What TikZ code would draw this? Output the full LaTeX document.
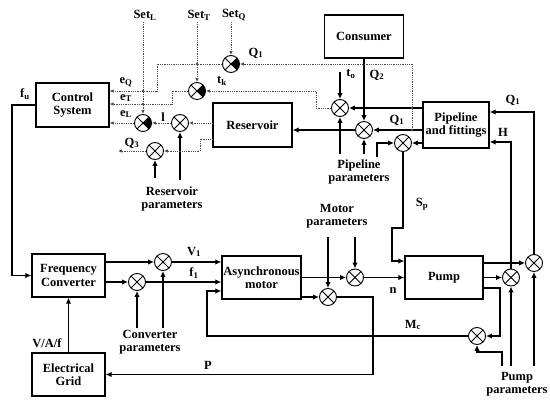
\documentclass[tikz,border=0pt]{standalone}
\usepackage{fontspec}
\setmainfont{Liberation Serif}
\usetikzlibrary{arrows.meta}
\begin{document}
\begin{tikzpicture}[x=1pt,y=-1pt,
  every node/.style={font=\bfseries\fontsize{12.5}{13.5}\selectfont},
  lbl/.style={inner sep=0pt,align=center},
  blk/.style={draw,line width=1.3pt,align=center,inner sep=0pt},
  sumj/.style={draw,circle,line width=0.9pt,minimum size=17pt,inner sep=0pt,fill=white,
    path picture={\draw[line width=0.8pt] (path picture bounding box.north west)--(path picture bounding box.south east)
      (path picture bounding box.north east)--(path picture bounding box.south west);}},
  cmpj/.style={draw,circle,line width=0.9pt,minimum size=17pt,inner sep=0pt,fill=white,
    path picture={\fill[black] (path picture bounding box.center) -- ++(45:14pt) -- ++(0,-19.8pt) -- cycle;
      \draw[line width=0.8pt] (path picture bounding box.north west)--(path picture bounding box.south east)
      (path picture bounding box.north east)--(path picture bounding box.south west);}},
  flow/.style={line width=1.7pt,-{Latex[length=6pt,width=5.5pt]}},
  sig/.style={densely dotted,line width=0.8pt,draw=black!70,-{Latex[length=4pt,width=3.5pt]}},
  sdot/.style={fill=black!70},
]
\useasboundingbox (0,0) rectangle (550,405);

% blocks
\node[blk,minimum width=73pt,minimum height=44pt] (ctrl) at (72.5,105) {Control\\System};
\node[blk,minimum width=79pt,minimum height=43pt] (cons) at (364,36.5) {Consumer};
\node[blk,minimum width=79pt,minimum height=44pt] (res) at (252.5,125) {Reservoir};
\node[blk,minimum width=66pt,minimum height=46pt] (pipe) at (456,125) {Pipeline\\and fittings};
\node[blk,minimum width=73pt,minimum height=43pt] (conv) at (68.5,275.5) {Frequency\\Converter};
\node[blk,minimum width=73pt,minimum height=43pt] (grid) at (68.5,374.5) {Electrical\\Grid};
\node[blk,minimum width=79pt,minimum height=43pt] (motor) at (261.5,277.5) {Asynchronous\\motor};
\node[blk,minimum width=78pt,minimum height=43pt] (pump) at (444,277.5) {Pump};

% junctions
\node[sumj] (jV) at (163,262) {};
\node[sumj] (jf) at (137,282) {};
\node[sumj] (jMu) at (355,277.5) {};
\node[sumj] (jMl) at (328,297) {};
\node[sumj] (jA) at (511,277.5) {};
\node[sumj] (jB) at (534,263) {};
\node[sumj] (jMc) at (477,336) {};
\node[sumj] (jSp) at (403,143) {};
\node[sumj] (jUp) at (340,108) {};
\node[sumj] (jLo) at (364,130) {};
\node[sumj] (jl) at (180,123) {};
\node[sumj] (jQ3) at (155,151) {};
\node[cmpj] (jeL) at (143,123) {};
\node[cmpj] (jtk) at (197,91) {};
\node[cmpj] (jQ1) at (231,64) {};

% helper coordinates
\coordinate (mcin) at (207,291);
\coordinate (pmc) at (500,288);
\coordinate (hH) at (511,142);
\coordinate (qQ) at (534,112);
\coordinate (spin) at (392,261);
\coordinate (r3) at (200,139);
\coordinate (eq) at (157,91);
\coordinate (et) at (172,104);

% solid connectors
\draw[flow] (ctrl.west) -- (12,105) |- (conv.west);
\draw[flow] (grid.north) -- (conv.south);
\draw[flow] (conv.east |- jV) -- (jV);
\draw[flow] (conv.east |- jf) -- (jf);
\draw[flow] (jV) -- (motor.west |- jV);
\draw[flow] (jf) -- (motor.west |- jf);
\draw[flow] (163,328) -- (jV);
\draw[flow] (137,328) -- (jf);
\draw[flow] (motor.east |- jMu) -- (jMu);
\draw[flow] (motor.east |- jMl) -- (jMl);
\draw[flow] (328,237) -- (jMl);
\draw[flow] (355,237) -- (jMu);
\draw[flow] (jMu) -- (pump.west |- jMu);
\draw[flow] (jMl) -- (373,297) -- (373,374.5) -- (grid.east);
\draw[flow] (jMc) -- (207,336) -- (mcin) -- (motor.west |- mcin);
\draw[flow] (pump.east |- jB) -- (jB);
\draw[flow] (pump.east |- jA) -- (jA);
\draw[flow] (pump.east |- pmc) -- (pmc) -- (500,336) -- (jMc);
\draw[flow] (502,366) -- (502,352) -- (477,352) -- (jMc);
\draw[flow] (511,366) -- (jA);
\draw[flow] (534,366) -- (jB);
\draw[flow] (jA) -- (hH) -- (pipe.east |- hH);
\draw[flow] (jB) -- (qQ) -- (pipe.east |- qQ);
\draw[flow] (pipe.west |- jSp) -- (jSp);
\draw[flow] (pipe.west |- jUp) -- (jUp);
\draw[flow] (pipe.west |- jLo) -- (jLo);
\draw[flow] (cons.south) -- (jLo);
\draw[flow] (340,72) -- (jUp);
\draw[flow] (340,154) -- (jUp);
\draw[flow] (364,154) -- (jLo);
\draw[flow] (377,157) -- (377,143) -- (jSp);
\draw[flow] (jLo) -- (res.east |- jLo);
\draw[flow] (jSp) -- (403,228) -- (392,228) -- (spin) -- (pump.west |- spin);
\draw[flow] (180,180) -- (jl);
\draw[flow] (155,178) -- (jQ3);
\fill (511,263) circle (1.6pt);
\fill (373,336) circle (1.6pt);

% dotted signals
\draw[sig] (res.west |- jl) -- (jl);
\draw[sig] (res.west |- r3) -- (r3) -- (200,151) -- (jQ3);
\draw[sig] (jQ3) -- (118,151);
\draw[sig] (jl) -- (jeL);
\draw[sig] (jeL) -- (ctrl.east |- jeL);
\draw[sig] (143,22) -- (jeL);
\draw[sig] (197,22) -- (jtk);
\draw[sig] (231,22) -- (jQ1);
\draw[sig] (jQ1) -- (157,64) -- (eq) -- (ctrl.east |- eq);
\draw[sig] (jtk) -- (172,91) -- (et) -- (ctrl.east |- et);
\draw[sig] (jUp) -- (316,108) -- (316,91) -- (jtk);
\draw[sig] (412,130) -- (412,64) -- (jQ1);
\fill[sdot] (143,91) circle (1.3pt);
\fill[sdot] (143,104) circle (1.3pt);
\fill[sdot] (197,64) circle (1.3pt);
\fill[sdot] (412,108) circle (1.3pt);
\fill[sdot] (412,130) circle (1.3pt);

% labels
\node[lbl] (tSL) at (145,15) {Set\textsubscript{L}};
\node[lbl] (tST) at (199,15) {Set\textsubscript{T}};
\node[lbl] (tSQ) at (234,15) {Set\textsubscript{Q}};
\node[lbl] (tQ1a) at (256,53) {Q\textsubscript{1}};
\node[lbl] (ttk) at (222,81) {t\textsubscript{k}};
\node[lbl] (teQ) at (126,82) {e\textsubscript{Q}};
\node[lbl] (teT) at (126,98) {e\textsubscript{T}};
\node[lbl] (teL) at (126,114) {e\textsubscript{L}};
\node[lbl] (tl) at (163,117) {l};
\node[lbl] (tQ3) at (132,143) {Q\textsubscript{3}};
\node[lbl] (tQ1b) at (397,120) {Q\textsubscript{1}};
\node[lbl] (tQ2) at (377,75) {Q\textsubscript{2}};
\node[lbl] (tto) at (351,74) {t\textsubscript{o}};
\node[lbl] (tQ1c) at (513,100) {Q\textsubscript{1}};
\node[lbl] (tH) at (503,132) {H};
\node[lbl] (tSp) at (422,204) {S\textsubscript{p}};
\node[lbl] (tV1) at (194,252) {V\textsubscript{1}};
\node[lbl] (tf1) at (194,273) {f\textsubscript{1}};
\node[lbl] (tn) at (393,291) {n};
\node[lbl] (tMc) at (413,325) {M\textsubscript{c}};
\node[lbl] (tP) at (208,365) {P};
\node[lbl] (tVAf) at (47,343) {V/A/f};
\node[lbl] (tfu) at (25,94) {f\textsubscript{u}};
\node[lbl] (tRp) at (172,199) {Reservoir\\parameters};
\node[lbl] (tPp) at (359,172) {Pipeline\\parameters};
\node[lbl] (tMp) at (337,216) {Motor\\parameters};
\node[lbl] (tCp) at (150,342) {Converter\\parameters};
\node[lbl] (tPup) at (517,384) {Pump\\parameters};
\end{tikzpicture}
\end{document}
